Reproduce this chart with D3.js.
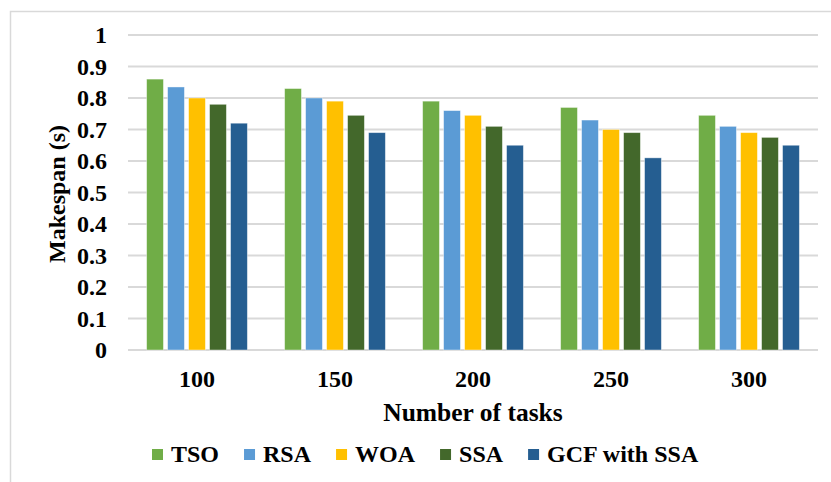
<!DOCTYPE html>
<html>
<head>
<meta charset="utf-8">
<script src="https://cdn.jsdelivr.net/npm/d3@7"></script>
<style>
  body { margin: 0; background: #fff; }
</style>
</head>
<body>
<script>
// data
const tasks = ["100", "150", "200", "250", "300"];
const series = ["TSO", "RSA", "WOA", "SSA", "GCF with SSA"];
const colors = ["#70AD47", "#5B9BD5", "#FFC000", "#43682B", "#255E91"];
const tso = [0.86, 0.83, 0.79, 0.77, 0.745];
const rsa = [0.835, 0.80, 0.76, 0.73, 0.71];
const woa = [0.80, 0.79, 0.745, 0.70, 0.69];
const ssa = [0.78, 0.745, 0.71, 0.69, 0.675];
const gcf = [0.72, 0.69, 0.65, 0.61, 0.65];
const yTicks = [0, 0.1, 0.2, 0.3, 0.4, 0.5, 0.6, 0.7, 0.8, 0.9, 1];

const values = [tso, rsa, woa, ssa, gcf];
const FONT = "'Liberation Serif', 'Times New Roman', Times, serif";

const W = 831, H = 482;
const plot = { left: 128, right: 818, top: 35, bottom: 350 };

const svg = d3.select("body").append("svg")
    .attr("width", W)
    .attr("height", H);

// chart frame (runs off the right and bottom edge)
svg.append("rect")
    .attr("x", 10.5).attr("y", 11.5)
    .attr("width", W + 20).attr("height", H + 20)
    .attr("fill", "#fff")
    .attr("stroke", "#d9d9d9")
    .attr("stroke-width", 1.5);

const x0 = d3.scaleBand()
    .domain(tasks)
    .range([plot.left, plot.right])
    .paddingInner(0.27)
    .paddingOuter(0.135);

const x1 = d3.scaleBand()
    .domain(series)
    .range([0, x0.bandwidth()])
    .paddingInner(0.2);

const y = d3.scaleLinear()
    .domain([0, 1])
    .range([plot.bottom, plot.top]);

// gridlines
svg.append("g")
    .selectAll("line")
    .data(yTicks)
    .join("line")
    .attr("x1", plot.left).attr("x2", plot.right)
    .attr("y1", d => y(d)).attr("y2", d => y(d))
    .attr("stroke", "#d9d9d9")
    .attr("stroke-width", 2);

// y axis labels
const yAxis = svg.append("g")
    .attr("transform", "translate(107,0)")
    .call(d3.axisLeft(y).tickValues(yTicks).tickSize(0).tickPadding(0).tickFormat(d3.format("")));
yAxis.attr("font-family", FONT).attr("font-size", 24).attr("font-weight", "bold");
yAxis.select(".domain").remove();
yAxis.selectAll("text")
    .attr("fill", "#000")
    .attr("dy", "0.33em");

// bars
const rows = tasks.map((t, i) => ({ task: t, vals: series.map((s, j) => ({ s, j, v: values[j][i] })) }));

svg.append("g")
    .selectAll("g")
    .data(rows)
    .join("g")
    .attr("transform", d => "translate(" + x0(d.task) + ",0)")
    .selectAll("rect")
    .data(d => d.vals)
    .join("rect")
    .attr("x", d => x1(d.s))
    .attr("y", d => y(d.v))
    .attr("width", x1.bandwidth())
    .attr("height", d => y(0) - y(d.v))
    .attr("fill", d => colors[d.j])
    .attr("stroke", "#fff")
    .attr("stroke-opacity", 0.5)
    .attr("stroke-width", 0.8);

// x axis labels
const xAxis = svg.append("g")
    .attr("transform", "translate(0," + plot.bottom + ")")
    .call(d3.axisBottom(x0).tickSize(0).tickPadding(0));
xAxis.attr("font-family", FONT).attr("font-size", 24).attr("font-weight", "bold");
xAxis.select(".domain").remove();
xAxis.selectAll("text")
    .attr("fill", "#000")
    .attr("y", 37)
    .attr("dy", 0);

// axis titles
svg.append("text")
    .attr("x", 473)
    .attr("y", 421)
    .attr("text-anchor", "middle")
    .attr("font-family", FONT).attr("font-size", 25.5).attr("font-weight", "bold")
    .text("Number of tasks");

svg.append("text")
    .attr("transform", "translate(65,194) rotate(-90)")
    .attr("text-anchor", "middle")
    .attr("font-family", FONT).attr("font-size", 24).attr("font-weight", "bold")
    .text("Makespan (s)");

// legend
const legend = svg.append("g").attr("transform", "translate(152,0)");
let lx = 0;
series.forEach((s, i) => {
    const g = legend.append("g").attr("transform", "translate(" + lx + ",0)");
    g.append("rect")
        .attr("x", 0).attr("y", 449)
        .attr("width", 11).attr("height", 11)
        .attr("fill", colors[i]);
    const t = g.append("text")
        .attr("x", 19).attr("y", 462)
        .attr("font-family", FONT).attr("font-size", 24).attr("font-weight", "bold")
        .text(s);
    lx += 19 + t.node().getComputedTextLength() + 25;
});
</script>
</body>
</html>
